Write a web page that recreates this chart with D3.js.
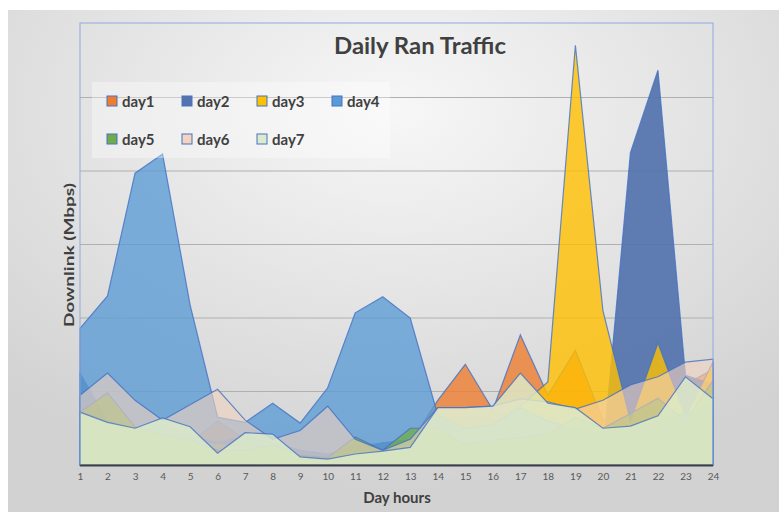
<!DOCTYPE html>
<html>
<head>
<meta charset="utf-8">
<title>Daily Ran Traffic</title>
<script src="https://d3js.org/d3.v7.min.js"></script>
<style>
  body { margin: 0; background: #fff; }
  text { font-family: Lato, "Open Sans", sans-serif; }
</style>
</head>
<body>
<div id="chart"></div>
<script>
// hours on the x axis
const hours = d3.range(1, 25);
const dayNames = ["day1", "day2", "day3", "day4", "day5", "day6", "day7"];

// downlink per hour (gridline step = 100)
const day1 = [30, 40, 30, 25, 30, 60, 35, 30, 20, 15, 25, 30, 30, 88, 137, 75, 177, 95, 156, 61, 60, 80, 110, 130];
const day2 = [125, 60, 50, 55, 40, 30, 40, 30, 20, 15, 20, 30, 35, 40, 45, 50, 60, 70, 40, 15, 425, 537, 122, 110];
const day3 = [30, 35, 30, 25, 30, 30, 25, 20, 10, 10, 27, 20, 30, 40, 50, 55, 80, 113, 571, 210, 60, 166, 65, 140];
const day4 = [186, 230, 397, 423, 218, 65, 58, 84, 57, 105, 207, 229, 200, 68, 50, 55, 78, 60, 50, 45, 50, 60, 70, 80];
const day5 = [72, 98, 52, 41, 34, 20, 20, 27, 13, 10, 38, 20, 50, 50, 27, 34, 37, 43, 65, 50, 70, 91, 60, 115];
const day6 = [95, 125, 88, 61, 82, 103, 61, 35, 47, 80, 35, 20, 35, 78, 78, 80, 90, 86, 76, 88, 109, 120, 140, 144];
const day7 = [72, 58, 50, 64, 52, 16, 44, 42, 11, 8, 15, 19, 24, 78, 78, 80, 125, 84, 78, 50, 53, 67, 120, 90];

const series = [day1, day2, day3, day4, day5, day6, day7];
const colors = ["#ED7D31", "#5473AE", "#FFC000", "#5B9BD5", "#70AD47", "#F4D3C0", "#DCEBCB"];
const opac = [0.8, 0.92, 0.8, 0.78, 0.75, 0.6, 0.82];

const W = 779, H = 512;
const svg = d3.select("#chart").append("svg").attr("width", W).attr("height", H);

// slide background
const defs = svg.append("defs");
const bg = defs.append("radialGradient").attr("id", "bg")
  .attr("cx", "50%").attr("cy", "20%").attr("r", "75%");
bg.append("stop").attr("offset", "0%").attr("stop-color", "#f7f7f7");
bg.append("stop").attr("offset", "100%").attr("stop-color", "#d2d2d2");
svg.append("rect").attr("x", 8).attr("y", 10).attr("width", W - 8).attr("height", H - 10)
  .attr("fill", "url(#bg)");

const x = d3.scaleLinear().domain([1, 24]).range([80, 713]);
const y = d3.scaleLinear().domain([0, 600]).range([465, 24]);

// gridlines
svg.append("g").selectAll("line").data([100, 200, 300, 400, 500]).join("line")
  .attr("x1", 80).attr("x2", 713)
  .attr("y1", d => y(d)).attr("y2", d => y(d))
  .attr("stroke", "#b0b0b0").attr("stroke-width", 1.2);

const area = d3.area()
  .x((d, i) => x(hours[i]))
  .y0(y(0))
  .y1(d => y(d));

svg.append("g").selectAll("path").data(series).join("path")
  .attr("d", area)
  .attr("fill", (d, i) => colors[i])
  .attr("fill-opacity", (d, i) => opac[i])
  .attr("stroke", "#4472C4")
  .attr("stroke-opacity", 0.8)
  .attr("stroke-width", 1.2);

// plot frame
svg.append("rect").attr("x", 80).attr("y", 23).attr("width", 633).attr("height", 442)
  .attr("fill", "none").attr("stroke", "#8faadc").attr("stroke-width", 1);
svg.append("line").attr("x1", 80).attr("x2", 713).attr("y1", 465.5).attr("y2", 465.5)
  .attr("stroke", "#404040").attr("stroke-width", 2);

// x axis labels
const xAxis = svg.append("g").attr("transform", "translate(0,470)")
  .call(d3.axisBottom(x).tickValues(hours).tickSize(0).tickFormat(d3.format("d")));
xAxis.select(".domain").remove();
xAxis.selectAll("text").attr("font-size", 10).attr("fill", "#595959")
  .style("font-family", "Lato, sans-serif");

// titles
svg.append("text").attr("x", 420).attr("y", 54).attr("text-anchor", "middle")
  .attr("font-size", 22).attr("font-weight", "bold").attr("fill", "#404040")
  .attr("textLength", 172).attr("lengthAdjust", "spacingAndGlyphs")
  .text("Daily Ran Traffic");
svg.append("text").attr("x", 397).attr("y", 503).attr("text-anchor", "middle")
  .attr("font-size", 15).attr("font-weight", "bold").attr("fill", "#404040")
  .text("Day hours");
svg.append("text").attr("transform", "translate(74,255) rotate(-90)").attr("text-anchor", "middle")
  .attr("font-size", 14).attr("font-weight", "bold").attr("fill", "#404040")
  .attr("textLength", 144).attr("lengthAdjust", "spacingAndGlyphs")
  .text("Downlink (Mbps)");

// legend
svg.append("rect").attr("x", 92).attr("y", 82).attr("width", 298).attr("height", 76)
  .attr("fill", "#ffffff").attr("fill-opacity", 0.35);
const leg = svg.append("g").selectAll("g").data(dayNames).join("g")
  .attr("transform", (d, i) => `translate(${112 + (i % 4) * 75},${i < 4 ? 101 : 139})`);
leg.append("rect").attr("x", -5).attr("y", -5).attr("width", 10).attr("height", 10)
  .attr("fill", (d, i) => colors[i]).attr("stroke", "#4472C4").attr("stroke-width", 1);
leg.append("text").attr("x", 10).attr("y", 5.5)
  .attr("font-size", 15).attr("font-weight", "bold").attr("fill", "#404040")
  .text(d => d);
</script>
</body>
</html>
